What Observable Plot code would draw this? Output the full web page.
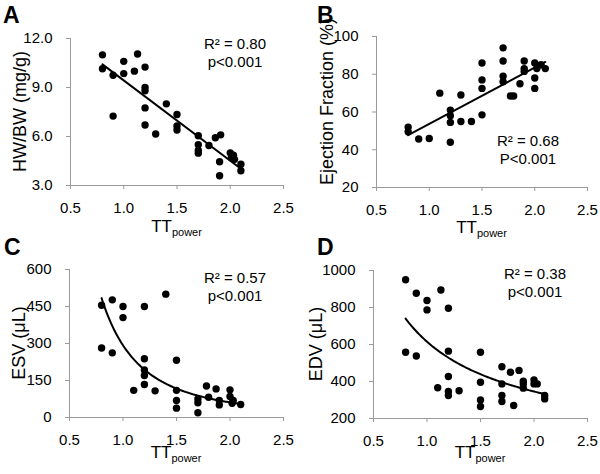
<!DOCTYPE html>
<html>
<head>
<meta charset="utf-8">
<script src="https://cdn.jsdelivr.net/npm/d3@7"></script>
<script src="https://cdn.jsdelivr.net/npm/@observablehq/plot@0.6"></script>
<style>
  body { margin: 0; background: #fff; }
  #chart { position: relative; width: 600px; height: 474px; background: #fff; font-family: "Liberation Sans", Arial, sans-serif; }
  #chart svg { position: absolute; overflow: visible; }
</style>
</head>
<body>
<div id="chart"></div>
<script>
// ---------- data ----------
const xTicks = [0.5, 1.0, 1.5, 2.0, 2.5];

// Panel A: HW/BW vs TTpower
const ttA = [0.8,0.8,0.9,0.9,1.0,1.0,1.1,1.13,1.2,1.2,1.2,1.2,1.2,1.3,1.4,1.5,1.5,1.5,1.7,1.7,1.7,1.7,1.8,1.86,1.91,1.9,1.9,2.0,2.03,2.01,2.04,2.1,2.1];
const hwbw = [11.0,10.15,9.75,7.25,10.6,9.85,10.0,11.05,10.25,9.0,8.8,7.75,6.7,6.15,8.0,7.35,6.65,6.4,6.05,5.5,5.15,4.98,5.45,5.92,6.1,4.45,3.6,5.0,4.85,4.7,4.6,4.3,3.9];
const yTicksA = [3, 6, 9, 12];

// Panel B: Ejection fraction vs TTpower
const ttB = [0.8,0.8,0.9,1.0,1.1,1.2,1.2,1.2,1.2,1.3,1.3,1.4,1.5,1.5,1.5,1.5,1.7,1.7,1.7,1.7,1.77,1.8,1.86,1.9,1.9,1.9,2.0,2.0,2.0,2.02,2.06,2.1];
const ef = [52,49.5,45.7,46,70,61,58,54.5,44,69,55,55,86,77,72.5,58.5,94,87,79,76,68.5,68.5,75,87,83,81.5,86,78,72.5,83,85,83];
const yTicksB = [20, 40, 60, 80, 100];

// Panel C: ESV vs TTpower
const ttC = [0.8,0.8,0.9,0.9,1.0,1.0,1.1,1.2,1.2,1.2,1.2,1.2,1.3,1.4,1.5,1.5,1.5,1.5,1.7,1.7,1.7,1.78,1.8,1.87,1.9,1.9,2.0,2.0,2.02,2.03,2.1];
const esv = [455,282,477,262,450,405,110,450,238,193,170,134,108,500,232,110,69,38,75,60,19,128,82,116,69,51,112,85,58,69,53];
const yTicksC = [0, 150, 300, 450, 600];

// Panel D: EDV vs TTpower
const ttD = [0.8,0.8,0.9,0.9,1.0,1.0,1.1,1.13,1.2,1.2,1.2,1.2,1.2,1.3,1.5,1.5,1.5,1.5,1.7,1.7,1.7,1.7,1.78,1.81,1.86,1.9,1.9,1.9,2.0,2.0,2.03,2.1,2.1];
const edv = [950,558,877,538,838,787,366,895,796,564,427,346,324,350,558,396,300,265,480,387,324,292,450,270,460,402,387,364,409,387,387,324,306];
const yTicksD = [200, 400, 600, 800, 1000];

// power-law trendlines (y = a * x^b)
const powerFitC = [292.6, -2.254];
const powerFitD = [615, -0.83];

const panelLetters = ["A", "B", "C", "D"];
const yTitles = ["HW/BW (mg/g)", "Ejection Fraction (%)", "ESV (\u03BCL)", "EDV (\u03BCL)"];
const statLines = [["R\u00B2 = 0.80", "p<0.001"], ["R\u00B2 = 0.68", "P<0.001"], ["R\u00B2 = 0.57", "p<0.001"], ["R\u00B2 = 0.38", "p<0.001"]];

// ---------- drawing ----------
const axisGray = "#9a9a9a";
const FONT = "'Liberation Sans', Arial, sans-serif";
const chart = document.getElementById("chart");

function powerCurve(xs, fit) {
  const [x0, x1] = d3.extent(xs);
  const n = 120;
  return d3.range(n + 1).map(i => {
    const x = x0 + (x1 - x0) * i / n;
    return {x, y: fit[0] * Math.pow(x, fit[1])};
  });
}

function panel(cfg) {
  const data = cfg.x.map((v, i) => ({x: v, y: cfg.y[i]}));
  const fitMark = cfg.fit
    ? Plot.line(powerCurve(cfg.x, cfg.fit), {x: "x", y: "y", stroke: "#000", strokeWidth: 2})
    : Plot.linearRegressionY(data, {x: "x", y: "y", stroke: "#000", strokeWidth: 2, ci: 0});
  const svg = Plot.plot({
    width: 300,
    height: 237,
    marginLeft: cfg.m[0], marginRight: cfg.m[1], marginTop: cfg.m[2], marginBottom: cfg.m[3],
    style: {fontFamily: FONT, fontSize: "15px", background: "transparent", color: "#000", overflow: "visible"},
    x: {domain: [0.5, 2.5]},
    y: {domain: d3.extent(cfg.yTicks)},
    marks: [
      Plot.ruleX([0.5], {stroke: axisGray, strokeWidth: 1}),
      Plot.ruleY([cfg.yTicks[0]], {stroke: axisGray, strokeWidth: 1}),
      Plot.axisX({ticks: xTicks, tickFormat: d3.format(".1f"), tickSize: 4, tickPadding: 13, stroke: axisGray, fill: "#000", fontSize: 15, label: null}),
      Plot.axisY({ticks: cfg.yTicks, tickFormat: cfg.yFormat, tickSize: 4, tickPadding: 14, stroke: axisGray, fill: "#000", fontSize: 15, label: null}),
      fitMark,
      Plot.dot(data, {x: "x", y: "y", r: 3.7, fill: "#000", stroke: "none"})
    ]
  });
  svg.style.left = cfg.left + "px";
  svg.style.top = cfg.top + "px";
  const sx = svg.scale("x"), sy = svg.scale("y");
  const g = d3.select(svg);
  const cx = (sx.range[0] + sx.range[1]) / 2;
  const cy = (sy.range[0] + sy.range[1]) / 2 + cfg.yTitleShift;
  const fy = d3.max(sy.range);
  // panel letter
  g.append("text").attr("x", cfg.letterXY[0]).attr("y", cfg.letterXY[1])
    .attr("text-anchor", "start")
    .attr("font-family", FONT).attr("font-weight", "bold").attr("font-size", 23).attr("fill", "#000")
    .text(cfg.letter);
  // y title
  g.append("text").attr("transform", `translate(${cfg.yTitleX},${cy}) rotate(-90)`)
    .attr("text-anchor", "middle").attr("font-family", FONT).attr("font-size", 18).attr("fill", "#000")
    .text(cfg.yTitle);
  // x title with subscript
  const xt = g.append("text").attr("x", cx).attr("y", fy + cfg.xTitleOffset)
    .attr("text-anchor", "middle").attr("font-family", FONT).attr("font-size", 17).attr("fill", "#000");
  xt.append("tspan").text("TT");
  xt.append("tspan").attr("font-size", 11).attr("dy", 4).text("power");
  // statistics annotation
  cfg.stats.forEach((s, i) => {
    g.append("text").attr("x", cfg.statXY[0]).attr("y", cfg.statXY[1] + i * 18)
      .attr("text-anchor", "middle").attr("font-family", FONT).attr("font-size", 15).attr("fill", "#000")
      .text(s);
  });
  chart.appendChild(svg);
}

panel({x: ttA, y: hwbw, yTicks: yTicksA, yFormat: d3.format(".1f"), m: [70, 17, 38, 52], left: 0, top: 0,
  letter: panelLetters[0], letterXY: [3, 23], yTitle: yTitles[0], yTitleX: 26, yTitleShift: 0, xTitleOffset: 47,
  stats: statLines[0], statXY: [235, 49]});
panel({x: ttB, y: ef, yTicks: yTicksB, yFormat: d3.format("d"), m: [76, 13, 36, 50], left: 300, top: 0,
  letter: panelLetters[1], letterXY: [17, 23], yTitle: yTitles[1], yTitleX: 33, yTitleShift: -10, xTitleOffset: 46,
  stats: statLines[1], statXY: [228, 146]});
panel({x: ttC, y: esv, yTicks: yTicksC, yFormat: d3.format("d"), fit: powerFitC, m: [69, 17, 32, 57], left: 0, top: 237,
  letter: panelLetters[2], letterXY: [4, 18], yTitle: yTitles[2], yTitleX: 25, yTitleShift: 0, xTitleOffset: 41,
  stats: statLines[2], statXY: [235, 46]});
panel({x: ttD, y: edv, yTicks: yTicksD, yFormat: d3.format("d"), fit: powerFitD, m: [73, 13, 33, 56], left: 300, top: 237,
  letter: panelLetters[3], letterXY: [17, 18], yTitle: yTitles[3], yTitleX: 22, yTitleShift: 0, xTitleOffset: 40,
  stats: statLines[3], statXY: [235, 42]});
</script>
</body>
</html>
